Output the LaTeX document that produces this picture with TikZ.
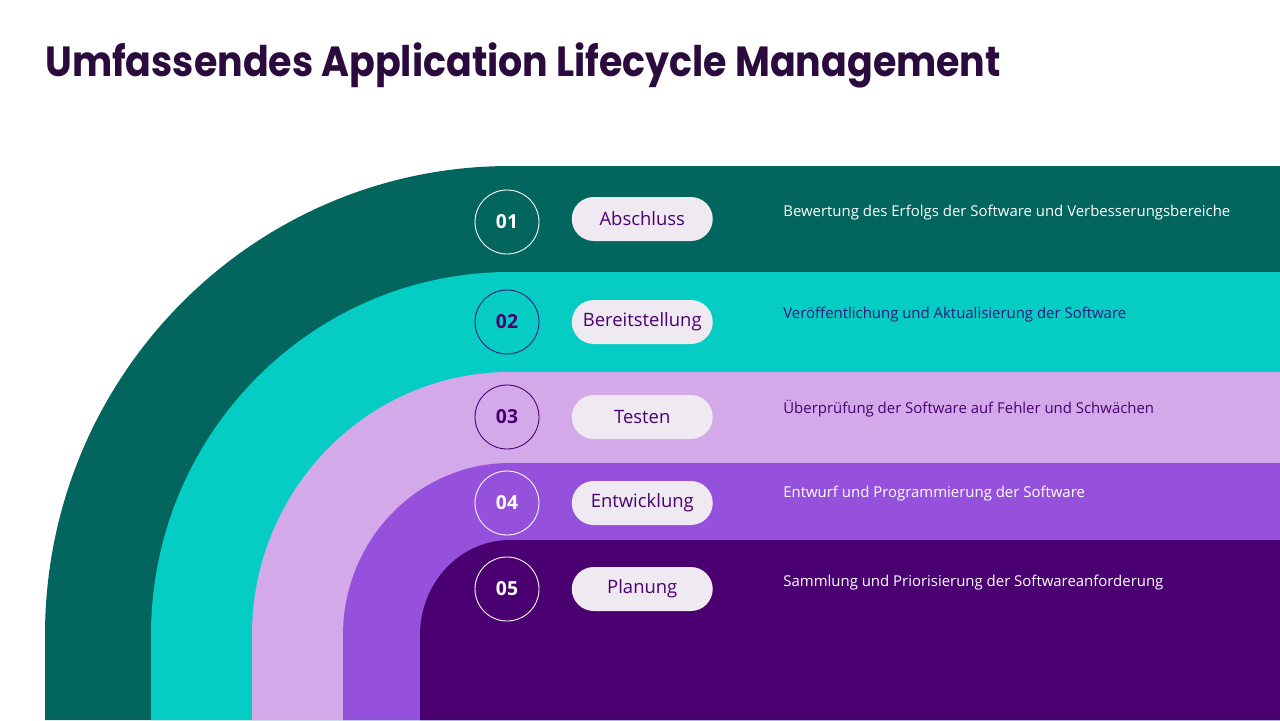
\documentclass[tikz,border=0pt]{standalone}
\usepackage{fontspec}
\setmainfont{Open Sans}
\newfontfamily\titelschrift{Poppins}
\usepackage{tikz}
\usetikzlibrary{positioning}
\definecolor{tinte}{RGB}{43,10,61}
\definecolor{petrol}{RGB}{2,102,94}
\definecolor{tuerkis}{RGB}{6,205,195}
\definecolor{flieder}{RGB}{212,169,233}
\definecolor{lila}{RGB}{150,81,220}
\definecolor{violett}{RGB}{75,0,114}
\definecolor{marine}{RGB}{45,25,125}
\definecolor{pillenweiss}{RGB}{239,233,242}

\begin{document}
\begin{tikzpicture}[x=0.02cm,y=-0.02cm,
  nummer/.style={circle,draw=white,line width=0.5pt,minimum size=1.28cm,inner sep=0pt,
    font=\bfseries\fontsize{11}{13}\selectfont,text=white},
  pille/.style={rounded corners=0.44cm,fill=pillenweiss,minimum width=2.82cm,minimum height=0.88cm,
    inner sep=0pt,font=\fontsize{10.5}{12}\selectfont,text=violett},
  beschreibung/.style={anchor=west,inner sep=0pt,font=\fontsize{8.5}{10}\selectfont,text=white}]
\useasboundingbox (0,0) rectangle (1280,720);
\fill[white] (0,0) rectangle (1280,720);

% Titel
\node[anchor=base west,inner sep=0pt,text=tinte,font=\titelschrift\bfseries\fontsize{24}{28}\selectfont]
  (titel) at (45,76) {\scalebox{0.9}[1]{Umfassendes Application Lifecycle Management}};

% Boegen, von aussen nach innen
\fill[petrol] (45,720) -- (45,635) arc[start angle=180,end angle=270,x radius=465,y radius=469] -- (1280,166) -- (1280,720) -- cycle;
\fill[tuerkis] (151,720) -- (151,635) arc[start angle=180,end angle=270,x radius=359,y radius=363] -- (1280,272) -- (1280,720) -- cycle;
\fill[flieder] (252,720) -- (252,635) arc[start angle=180,end angle=270,x radius=258,y radius=263] -- (1280,372) -- (1280,720) -- cycle;
\fill[lila] (343,720) -- (343,635) arc[start angle=180,end angle=270,x radius=167,y radius=172] -- (1280,463) -- (1280,720) -- cycle;
\fill[violett] (420,720) -- (420,635) arc[start angle=180,end angle=270,x radius=90,y radius=95] -- (1280,540) -- (1280,720) -- cycle;

% Phasen
\node[nummer] (n1) at (507,222) {01};
\node[pille,right=0.64cm of n1,yshift=0.06cm] (p1) {Abschluss};
\node[beschreibung] (b1) at (783,213) {Bewertung des Erfolgs der Software und Verbesserungsbereiche};

\node[nummer,draw=marine,text=violett] (n2) at (507,322) {02};
\node[pille,right=0.64cm of n2] (p2) {Bereitstellung};
\node[beschreibung,text=marine] (b2) at (783,315) {Veröffentlichung und Aktualisierung der Software};

\node[nummer,draw=violett,text=violett] (n3) at (507,417) {03};
\node[pille,right=0.64cm of n3] (p3) {Testen};
\node[beschreibung,text=violett] (b3) at (783,409) {Überprüfung der Software auf Fehler und Schwächen};

\node[nummer] (n4) at (507,503) {04};
\node[pille,right=0.64cm of n4] (p4) {Entwicklung};
\node[beschreibung] (b4) at (783,494) {Entwurf und Programmierung der Software};

\node[nummer] (n5) at (507,589) {05};
\node[pille,right=0.64cm of n5] (p5) {Planung};
\node[beschreibung] (b5) at (783,583) {Sammlung und Priorisierung der Softwareanforderung};
\end{tikzpicture}
\end{document}
